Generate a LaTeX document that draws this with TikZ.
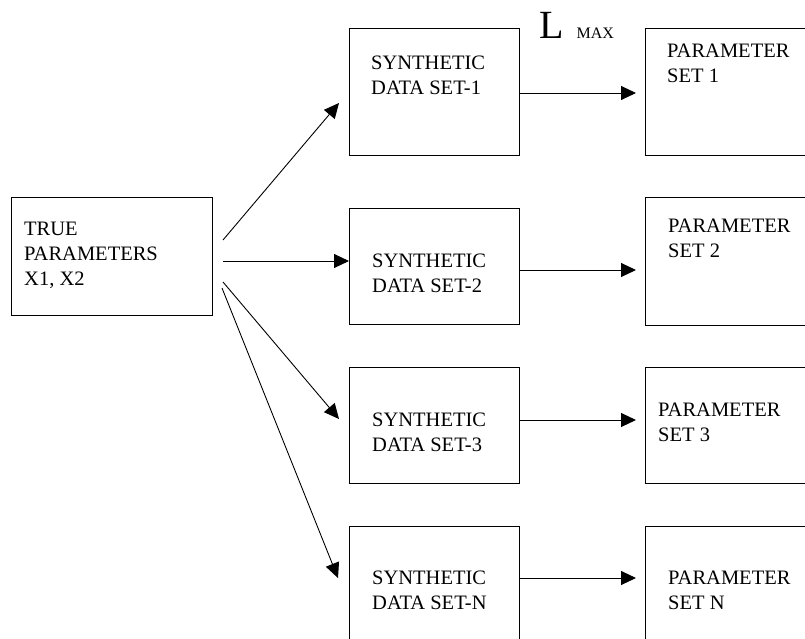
\documentclass[tikz,border=0pt]{standalone}
\usepackage{fontspec}
\setmainfont{Liberation Serif}
\usepackage{tikz}
\usetikzlibrary{arrows.meta,calc,positioning}
\tikzset{
  >={Triangle[length=15pt,width=14pt]},
  flow/.style={->, line width=0.9pt, draw=black},
  box/.style={
    draw=black,
    line width=0.9pt,
    anchor=north west,
    inner sep=0pt,
    minimum width=170pt
  },
  boxtext/.style={
    anchor=base west,
    align=left,
    inner sep=0pt,
    font=\fontsize{20.5}{25}\selectfont
  }
}

\begin{document}
\begin{tikzpicture}[x=1pt,y=-1pt]
  \useasboundingbox (0,0) rectangle (805,639);
  \clip (0,0) rectangle (805,639);

  \node[box,minimum width=201pt,minimum height=118pt] (truep) at (11,197) {};
  \node[box,minimum height=127pt] (syn1) at (349,28) {};
  \node[box,minimum height=116pt] (syn2) at (349,208) {};
  \node[box,minimum height=116pt] (syn3) at (349,367) {};
  \node[box,minimum height=130pt] (syn4) at (349,526) {};
  \node[box,minimum height=127pt] (par1) at (645,28) {};
  \node[box,minimum height=128pt] (par2) at (645,197) {};
  \node[box,minimum height=116pt] (par3) at (645,367) {};
  \node[box,minimum height=130pt] (par4) at (645,526) {};

  % base sits on the last line of each text
  \node[boxtext] (trueptxt) at ([shift={(13,88)}]truep.north west)
    {TRUE\\PARAMETERS\\X1, X2};
  \node[boxtext] (syn1txt) at ([shift={(22,67)}]syn1.north west)
    {SYNTHETIC\\DATA SET-1};
  \node[boxtext] (syn2txt) at ([shift={(23,84)}]syn2.north west)
    {SYNTHETIC\\DATA SET-2};
  \node[boxtext] (syn3txt) at ([shift={(23,84)}]syn3.north west)
    {SYNTHETIC\\DATA SET-3};
  \node[boxtext] (syn4txt) at ([shift={(23,83)}]syn4.north west)
    {SYNTHETIC\\DATA SET-N};
  \node[boxtext] (par1txt) at ([shift={(22,55)}]par1.north west)
    {PARAMETER\\SET 1};
  \node[boxtext] (par2txt) at ([shift={(23,60)}]par2.north west)
    {PARAMETER\\SET 2};
  \node[boxtext] (par3txt) at ([shift={(13,74)}]par3.north west)
    {PARAMETER\\SET 3};
  \node[boxtext] (par4txt) at ([shift={(23,83)}]par4.north west)
    {PARAMETER\\SET N};

  % likelihood label over the first row
  \node[anchor=base west,inner sep=0pt] (lmax) at (539,39)
    {{\fontsize{40}{40}\selectfont L}\hspace{13pt}{\fontsize{16}{16}\selectfont MAX}};

  \coordinate (o1) at (223,240);
  \coordinate (o2) at (223,261);
  \coordinate (o3) at (223,282);
  \coordinate (o4) at (222,288);
  \coordinate (t1) at (339,103);
  \coordinate (t3) at (339,419);
  \coordinate (t4) at (338,578);

  \draw[flow] (o1) -- (t1);
  \draw[flow] (o2) -- (o2 -| syn2.west);
  \draw[flow] (o3) -- (t3);
  \draw[flow] (o4) -- (t4);

  \draw[flow,shorten >=9pt] (syn1.east |- 0,93) -- (par1.west |- 0,93);
  \draw[flow,shorten >=9pt] (syn2.east |- 0,270) -- (par2.west |- 0,270);
  \draw[flow,shorten >=9pt] (syn3.east |- 0,420) -- (par3.west |- 0,420);
  \draw[flow,shorten >=9pt] (syn4.east |- 0,578) -- (par4.west |- 0,578);
\end{tikzpicture}
\end{document}
